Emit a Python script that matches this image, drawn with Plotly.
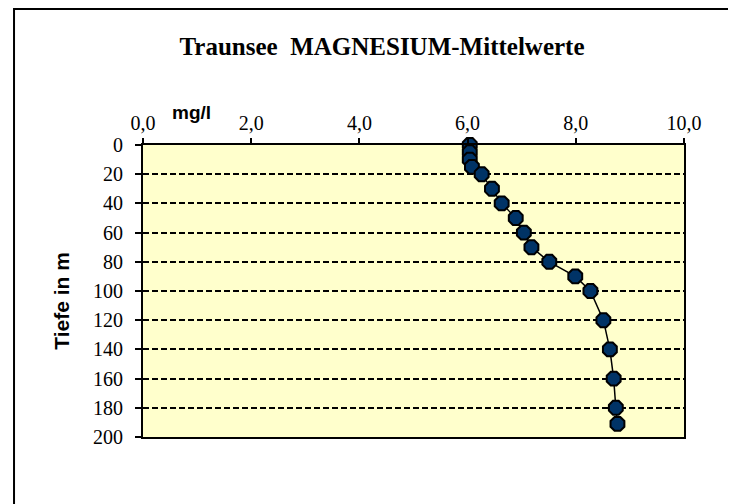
import plotly.graph_objects as go

# Traunsee magnesium mean values (mg/l) by depth (m)
depth = [0, 5, 10, 15, 20, 30, 40, 50, 60, 70, 80, 90, 100, 120, 140, 160, 180, 191]
magnesium = [6.04, 6.04, 6.04, 6.08, 6.26, 6.45, 6.63, 6.89, 7.04, 7.18, 7.51, 7.99,
             8.27, 8.51, 8.63, 8.70, 8.74, 8.77]

x_ticks = [0, 2, 4, 6, 8, 10]
y_ticks = [0, 20, 40, 60, 80, 100, 120, 140, 160, 180, 200]

serif = "Liberation Serif, Times New Roman, serif"
sans = "Liberation Sans, Arial, sans-serif"

fig = go.Figure()

fig.add_trace(go.Scatter(
    x=magnesium,
    y=depth,
    mode="lines+markers",
    line=dict(color="black", width=1.5),
    marker=dict(symbol="octagon", size=15, color="#003366",
                line=dict(color="black", width=2)),
    showlegend=False,
    cliponaxis=False,
))

# the page body adds an 8px offset, so the figure is sized to fit inside the window
fig.update_layout(
    width=728,
    height=496,
    margin=dict(l=135, r=52, t=137, b=67),
    paper_bgcolor="white",
    plot_bgcolor="#FFFFCC",
    separators=",.",
    title=dict(text="<b>Traunsee  MAGNESIUM-Mittelwerte</b>",
               font=dict(family=serif, size=25, color="black"),
               xref="paper", x=0.4418, xanchor="center", y=0.922, yanchor="middle"),
    xaxis=dict(
        side="top",
        range=[0, 10],
        tickvals=x_ticks,
        tickformat=".1f",
        ticks="outside",
        ticklen=5,
        tickwidth=1.5,
        tickcolor="black",
        ticklabelstandoff=0,
        showgrid=False,
        zeroline=False,
        showline=True,
        linecolor="black",
        linewidth=2,
        mirror=True,
        tickfont=dict(family=serif, size=20, color="black"),
    ),
    yaxis=dict(
        range=[200, 0],
        tickvals=y_ticks,
        ticks="outside",
        ticklen=6,
        tickwidth=1.5,
        tickcolor="black",
        ticklabelstandoff=8,
        showgrid=True,
        gridcolor="black",
        griddash="6px,3px",
        gridwidth=1.5,
        zeroline=False,
        showline=True,
        linecolor="black",
        linewidth=2,
        mirror=True,
        tickfont=dict(family=serif, size=20, color="black"),
    ),
    annotations=[
        dict(text="<b>mg/l</b>", xref="paper", yref="paper",
             x=0.09, y=1.11, xanchor="center", yanchor="middle", showarrow=False,
             font=dict(family=sans, size=19, color="black")),
        dict(text="<b>Tiefe in m</b>", xref="paper", yref="paper",
             x=-0.15, y=0.466, xanchor="center", yanchor="middle", showarrow=False,
             textangle=-90,
             font=dict(family=sans, size=21, color="black")),
    ],
    shapes=[
        dict(type="rect", xref="paper", yref="paper",
             x0=-0.2384, x1=1.0906, y0=-0.24, y1=1.466,
             line=dict(color="black", width=2), fillcolor="rgba(0,0,0,0)",
             layer="below"),
    ],
)

fig.write_html("out.html")
